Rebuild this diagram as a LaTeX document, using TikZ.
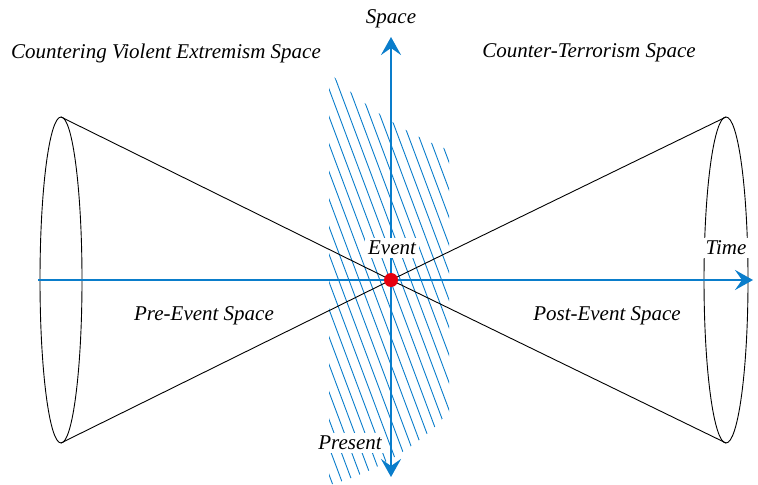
\documentclass[tikz,border=0pt]{standalone}
\usepackage{fontspec}
\setmainfont{Liberation Serif}
\usepackage{tikz}
\usetikzlibrary{arrows.meta,positioning}
\definecolor{AxisBlue}{HTML}{0A7DCB}
\definecolor{EventRed}{HTML}{E6000F}
\tikzset{
  axis/.style={draw=AxisBlue,line width=1.35pt,-{Stealth[length=9pt,width=10pt,inset=3.5pt]}},
  hatchline/.style={draw=AxisBlue,line width=0.45pt},
  cone/.style={draw=black,line width=0.45pt},
  lbl/.style={font=\fontsize{10.5}{12}\selectfont\itshape,inner sep=1.5pt},
  masklbl/.style={lbl,fill=white}
}
\begin{document}
\begin{tikzpicture}[x=0.5pt,y=-0.5pt]
  \useasboundingbox (0,0) rectangle (758,485);
  % hatched plane of the present
  \begin{scope}
    \clip (329,72) .. controls (362,106) and (410,136) .. (449,150) -- (449,412)
      .. controls (420,446) and (372,474) .. (329,485) -- cycle;
    \foreach \x in {100,110.3,...,470}{
      \draw[hatchline] (\x,0) -- ++(187,500);
    }
  \end{scope}
  % the two cones
  \coordinate (evt) at (391,280);
  \coordinate (lcen) at (61,280);
  \coordinate (rcen) at (726,280);
  \coordinate (ltop) at (61,117);
  \coordinate (lbot) at (61,443);
  \coordinate (rtop) at (726,117);
  \coordinate (rbot) at (726,443);
  \draw[cone] (lcen) ellipse (21 and 163);
  \draw[cone] (rcen) ellipse (22 and 163);
  \draw[cone] (ltop) -- (evt) -- (rbot);
  \draw[cone] (lbot) -- (evt) -- (rtop);
  % axes
  \coordinate (timeL) at (38,280);
  \coordinate (timeR) at (753,280);
  \coordinate (spaceT) at (391,37);
  \coordinate (spaceB) at (391,477);
  \draw[axis] (timeL) -- (timeR);
  \draw[axis] (evt) -- (spaceT);
  \draw[axis] (evt) -- (spaceB);
  \node[circle,fill=EventRed,minimum size=7pt,inner sep=0pt] (dot) at (evt) {};
  % labels
  \node[lbl] (space) at (391,19) {Space};
  \node[lbl] (cve) at (166,53) {Countering Violent Extremism Space};
  \node[lbl] (ct) at (589,53) {Counter-Terrorism Space};
  \node[masklbl] (event) at (392,248) {Event};
  \node[masklbl] (time) at (726,248) {Time};
  \node[lbl] (pre) at (204,316) {Pre-Event Space};
  \node[lbl] (post) at (607,316) {Post-Event Space};
  \node[masklbl] (present) at (350,443) {Present};
\end{tikzpicture}
\end{document}
